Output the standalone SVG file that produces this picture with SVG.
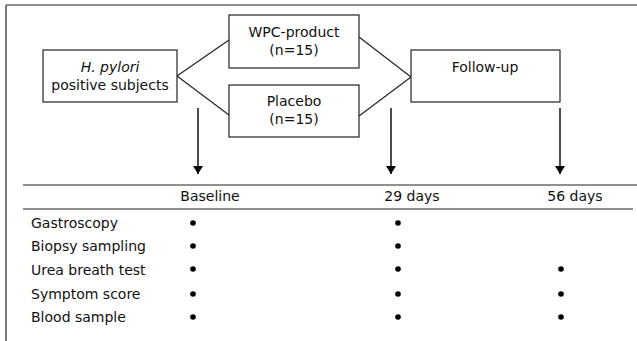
<svg xmlns="http://www.w3.org/2000/svg" width="637" height="341" viewBox="0 0 637 341">
<defs>
<marker id="ah" viewBox="0 0 8 10" refX="8" refY="5" markerWidth="8" markerHeight="10" markerUnits="userSpaceOnUse" orient="auto">
<path d="M0,0 L8,5 L0,10 z" fill="#000"/>
</marker>
</defs>
<style>
text{font-family:"DejaVu Sans",Verdana,sans-serif;font-size:14px;fill:#111}
.box{fill:#fff;stroke:#222;stroke-width:1.2}
.ln{stroke:#222;stroke-width:1.2;fill:none}
.arr{stroke:#111;stroke-width:1.5;fill:none;marker-end:url(#ah)}
.dot{fill:#000}
.c{text-anchor:middle}
</style>
<rect width="637" height="341" fill="#fff"/>
<g id="frame">
<line class="ln" x1="6" y1="5" x2="637" y2="5"/>
<line class="ln" x1="6" y1="5" x2="6" y2="341"/>
</g>
<g id="connectors">
<line class="ln" x1="177" y1="76" x2="229" y2="40"/>
<line class="ln" x1="177" y1="76" x2="229" y2="115"/>
<line class="ln" x1="359" y1="37" x2="411" y2="77"/>
<line class="ln" x1="359" y1="116" x2="411" y2="77"/>
<line class="arr" x1="198" y1="108" x2="198" y2="174"/>
<line class="arr" x1="391" y1="108" x2="391" y2="174"/>
<line class="arr" x1="560" y1="108" x2="560" y2="174"/>
</g>
<g id="hpylori">
<rect class="box" x="43" y="50" width="134" height="52"/>
<text class="c" x="110" y="72"><tspan font-style="italic">H. pylori</tspan></text>
<text class="c" x="110" y="90">positive subjects</text>
</g>
<g id="wpc">
<rect class="box" x="229" y="15" width="130" height="53"/>
<text class="c" x="294" y="37">WPC-product</text>
<text class="c" x="294" y="55">(n=15)</text>
</g>
<g id="placebo">
<rect class="box" x="229" y="85" width="130" height="52"/>
<text class="c" x="294" y="106">Placebo</text>
<text class="c" x="294" y="124">(n=15)</text>
</g>
<g id="followup">
<rect class="box" x="411" y="50" width="149" height="52"/>
<text class="c" x="485" y="72">Follow-up</text>
</g>
<g id="table">
<line class="ln" x1="23" y1="185" x2="637" y2="185"/>
<line class="ln" x1="23" y1="209" x2="633" y2="209"/>
<text class="c" x="210" y="201">Baseline</text>
<text class="c" x="412" y="201">29 days</text>
<text class="c" x="575" y="201">56 days</text>
<text x="31" y="228">Gastroscopy</text>
<text x="31" y="251">Biopsy sampling</text>
<text x="31" y="275">Urea breath test</text>
<text x="31" y="299">Symptom score</text>
<text x="31" y="322">Blood sample</text>
<circle class="dot" cx="193" cy="223" r="2.8"/>
<circle class="dot" cx="193" cy="246" r="2.8"/>
<circle class="dot" cx="193" cy="269" r="2.8"/>
<circle class="dot" cx="193" cy="294" r="2.8"/>
<circle class="dot" cx="193" cy="317" r="2.8"/>
<circle class="dot" cx="398" cy="223" r="2.8"/>
<circle class="dot" cx="398" cy="246" r="2.8"/>
<circle class="dot" cx="398" cy="269" r="2.8"/>
<circle class="dot" cx="398" cy="294" r="2.8"/>
<circle class="dot" cx="398" cy="317" r="2.8"/>
<circle class="dot" cx="561" cy="269" r="2.8"/>
<circle class="dot" cx="561" cy="294" r="2.8"/>
<circle class="dot" cx="561" cy="317" r="2.8"/>
</g>
</svg>
